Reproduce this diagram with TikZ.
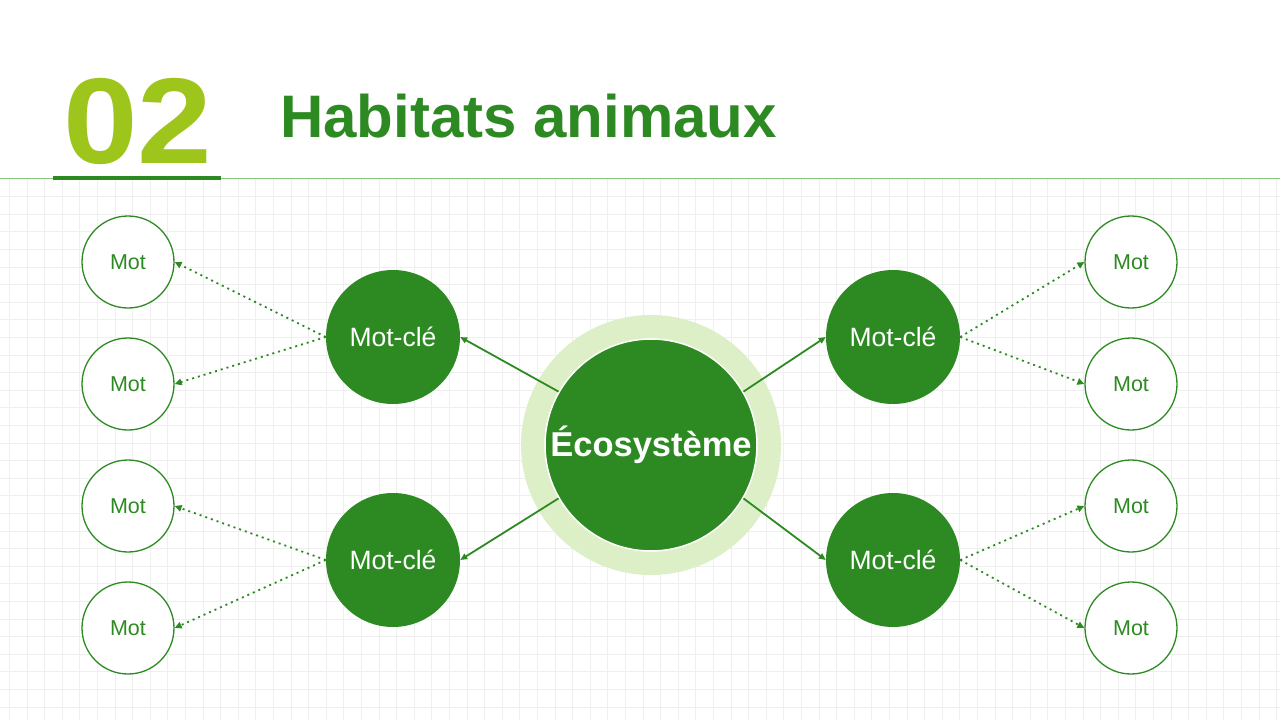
\documentclass[tikz,border=0pt]{standalone}
\usepackage{fontspec}
\setmainfont{Liberation Sans}
\newfontfamily\widefont[FakeStretch=1.1]{Liberation Sans}
\usetikzlibrary{arrows.meta}

\definecolor{leaf}{RGB}{45,138,34}
\definecolor{lime}{RGB}{157,197,27}
\definecolor{halo}{RGB}{221,239,199}
\definecolor{paper}{RGB}{239,239,239}
\definecolor{rule}{RGB}{140,199,127}

\tikzset{
	gridline/.style={paper, line width=0.8pt},
	eco/.style={circle, fill=leaf, draw=white, line width=1.5pt, minimum size=212pt, inner sep=0pt,
		text=white, font=\bfseries\fontsize{34.5}{40}\selectfont},
	keyword/.style={circle, fill=leaf, minimum size=134pt, inner sep=0pt,
		text=white, font=\fontsize{26.5}{30}\selectfont},
	word/.style={circle, fill=white, draw=leaf, line width=1.3pt, minimum size=92pt, inner sep=0pt,
		text=leaf, font=\fontsize{21.5}{24}\selectfont},
	link/.style={leaf, line width=1.8pt, -{Triangle[length=7pt,width=6pt]}},
	hint/.style={leaf, line width=1.8pt, dash pattern=on 2pt off 4pt, -{Triangle[length=7pt,width=6.5pt]}}
}

\begin{document}
\begin{tikzpicture}[x=1pt,y=-1pt]
	\useasboundingbox (0,0) rectangle (1280,720);
	\fill[white] (0,0) rectangle (1280,720);
	% faint grid below the header
	\foreach \x in {9.3,26.9,...,1280} {
		\draw[gridline] (\x,179) -- (\x,720);
	}
	\foreach \y in {196.6,214.2,...,720} {
		\draw[gridline] (0,\y) -- (1280,\y);
	}
	% header
	\draw[rule, line width=1.2pt] (0,178.5) -- (1280,178.5);
	\draw[leaf, line width=4pt] (53,178) -- (221,178);
	\node[anchor=base west, inner sep=0pt, text=lime, font=\widefont\bfseries\fontsize{122}{130}\selectfont] (num) at (63,163) {02};
	\node[anchor=base west, inner sep=0pt, text=leaf, font=\bfseries\fontsize{60}{66}\selectfont] (title) at (280,137) {Habitats animaux};
	% centre with its pale ring
	\fill[halo] (651,445) circle (130);
	\node[eco] (eco) at (651,445) {Écosystème};
	% keywords
	\node[keyword] (kwNW) at (393,337) {Mot-clé};
	\node[keyword] (kwSW) at (393,560) {Mot-clé};
	\node[keyword] (kwNE) at (893,337) {Mot-clé};
	\node[keyword] (kwSE) at (893,560) {Mot-clé};
	% words
	\foreach \y [count=\i] in {262,384,506,628} {
		\node[word] (wL\i) at (128,\y) {Mot};
		\node[word] (wR\i) at (1131,\y) {Mot};
	}
	% solid links from the centre
	\draw[link] (eco.150) -- (kwNW.east);
	\draw[link] (eco.210) -- (kwSW.east);
	\draw[link] (eco.30) -- (kwNE.west);
	\draw[link] (eco.-30) -- (kwSE.west);
	% dotted links to the words
	\foreach \k/\a/\b in {kwNW/1/2, kwSW/3/4} {
		\draw[hint] (\k.west) -- (wL\a.east);
		\draw[hint] (\k.west) -- (wL\b.east);
	}
	\foreach \k/\a/\b in {kwNE/1/2, kwSE/3/4} {
		\draw[hint] (\k.east) -- (wR\a.west);
		\draw[hint] (\k.east) -- (wR\b.west);
	}
\end{tikzpicture}
\end{document}
